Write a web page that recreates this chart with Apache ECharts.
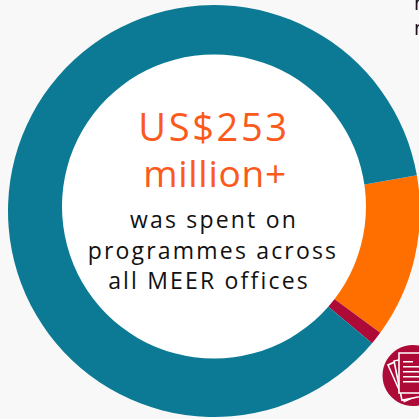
<!DOCTYPE html>
<html><head><meta charset="utf-8">
<style>
html,body{margin:0;padding:0;background:#f8f8f8;overflow:hidden}
#c{width:419px;height:419px}
</style>
<script src="https://cdn.jsdelivr.net/npm/echarts@6/dist/echarts.min.js"></script>
</head><body><div id="c"></div>
<script>
const categories = ['Orange share', 'Crimson share', 'Teal share'];
const values = [12.83, 1.03, 86.14];
const colours = ['#ff6f00', '#ae0a38', '#0d7a95'];
const headline = ['US$253', 'million+'];
const caption = ['was spent on', 'programmes across', 'all MEER offices'];
const cut = ['n', 'n'];

const chart = echarts.init(document.getElementById('c'), null, {renderer: 'svg'});
const font = '"Open Sans","Noto Sans",sans-serif';
const t = (s, x, y, size, fill, align) => ({type: 'text', x, y, z: 20, silent: true,
  style: {text: s, fontFamily: font, fontSize: size, fill, align: align || 'center', verticalAlign: 'middle'}});
const paper = (x, y, r) => ({type: 'rect', x, y, rotation: r, originX: 0, originY: 0, z: 21,
  shape: {width: 28, height: 40}, style: {fill: '#ae0a38', stroke: '#fff', lineWidth: 1.6}});
const line = (x, y, w) => ({type: 'rect', x, y, z: 22, shape: {width: w, height: 1.5}, style: {fill: '#fff'}});
chart.setOption({
  animation: false,
  backgroundColor: '#f8f8f8',
  series: [
    {type: 'pie', silent: true, center: [214, 211], radius: [120, 206], startAngle: 10, clockwise: true, z: 2,
      label: {show: false}, labelLine: {show: false},
      data: categories.map((name, i) => ({name, value: values[i], itemStyle: {color: colours[i]}}))},
    {type: 'pie', silent: true, center: [214, 206.5], radius: [0, 152], z: 3, label: {show: false},
      labelLine: {show: false}, data: [{value: 1, itemStyle: {color: '#ffffff'}}]}
  ],
  graphic: [
    t(headline[0], 214, 126, 38, '#fb5a1c'),
    t(headline[1], 215, 172, 37, '#fb5a1c'),
    t(caption[0], 214, 219, 23, '#111'),
    t(caption[1], 213, 250, 23, '#111'),
    t(caption[2], 209, 280, 23, '#111'),
    t(cut[0], 414, 2, 20, '#111', 'left'),
    t(cut[1], 414, 27, 20, '#111', 'left'),
    {type: 'circle', shape: {cx: 413, cy: 375.5, r: 30.5}, z: 20, style: {fill: '#ae0a38'}},
    paper(388, 365, 0.42),
    paper(394, 361, 0.2),
    paper(399, 353, 0),
    line(403, 361, 10), line(403, 366, 16), line(403, 371, 16), line(403, 376, 16), line(403, 381, 16)
  ]
});
const spacing = {'US$253': '0.07em', 'million+': '0.02em'};
document.querySelectorAll('#c svg text').forEach(el => {
  const s = el.textContent;
  if (cut.includes(s)) return;
  el.style.letterSpacing = spacing[s] || '0.095em';
});
</script></body></html>
